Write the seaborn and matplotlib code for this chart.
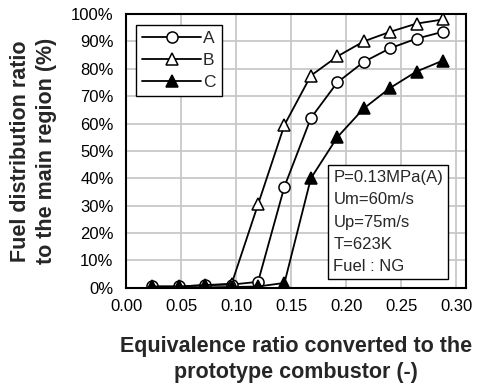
import numpy as np
import pandas as pd
import matplotlib
matplotlib.use("Agg")
import matplotlib.pyplot as plt
import seaborn as sns
from matplotlib.ticker import PercentFormatter

# equivalence ratio (shared by all series)
phi = [0.024, 0.048, 0.072, 0.096, 0.120, 0.144, 0.168, 0.192, 0.216, 0.240, 0.264, 0.288]

# fuel distribution ratio to the main region (%)
ratio_a = [0.5, 0.5, 1.0, 1.2, 2.2, 37.0, 62.0, 75.0, 82.5, 87.5, 91.0, 93.5]
ratio_b = [0.5, 0.5, 1.0, 1.5, 30.5, 59.5, 77.5, 84.5, 90.0, 93.5, 96.5, 98.0]
ratio_c = [0.0, 0.0, 0.2, 0.3, 0.5, 1.8, 40.0, 55.0, 65.5, 73.0, 79.0, 83.0]

series_names = ["A", "B", "C"]
conditions = ["P=0.13MPa(A)", "Um=60m/s", "Up=75m/s", "T=623K", "Fuel : NG"]

df = pd.DataFrame({
    "phi": phi * 3,
    "ratio": ratio_a + ratio_b + ratio_c,
    "case": sum([[n] * len(phi) for n in series_names], []),
})

sns.set_style("white")
plt.rcParams["font.family"] = ["Liberation Sans", "DejaVu Sans"]

fig, ax = plt.subplots(figsize=(4.78, 3.89), dpi=100)
fig.subplots_adjust(left=0.2636, right=0.975, top=0.964, bottom=0.26)

marker_styles = {
    "A": dict(marker="o", markerfacecolor="white"),
    "B": dict(marker="^", markerfacecolor="white"),
    "C": dict(marker="^", markerfacecolor="black"),
}
for name in series_names:
    sub = df[df["case"] == name]
    sns.lineplot(data=sub, x="phi", y="ratio", ax=ax, color="black", lw=1.3,
                 markersize=8, markeredgecolor="black", markeredgewidth=1.1,
                 label=name, **marker_styles[name])

ax.set_xlim(0, 0.309)
ax.set_ylim(0, 100)
ax.set_xticks(np.arange(0, 0.301, 0.05))
ax.set_yticks(np.arange(0, 101, 10))
ax.xaxis.set_major_formatter(lambda v, p: f"{v:.2f}")
ax.yaxis.set_major_formatter(PercentFormatter(decimals=0))
ax.grid(True, color="#c8c8c8", lw=1.3)
ax.set_axisbelow(True)
for s in ax.spines.values():
    s.set_color("black")
    s.set_linewidth(1.5)
ax.tick_params(axis="both", labelsize=12, length=4, direction="in", colors="black")
ax.tick_params(axis="x", pad=8)
ax.tick_params(axis="y", pad=9)

ax.set_xlabel("Equivalence ratio converted to the\nprototype combustor (-)",
              fontsize=15.5, fontweight="bold", labelpad=16, linespacing=1.3)
ax.set_ylabel("Fuel distribution ratio\nto the main region (%)",
              fontsize=15.5, fontweight="bold", labelpad=10, linespacing=1.3)

leg = ax.legend(loc="upper left", bbox_to_anchor=(0.03, 0.96), borderaxespad=0,
                fontsize=12.5, frameon=True, fancybox=False, edgecolor="black",
                framealpha=1, handlelength=3.4, handletextpad=0.1, borderpad=0.35,
                labelspacing=0.4)
leg.get_frame().set_linewidth(1.0)

ax.text(0.61, 0.43, "\n".join(conditions), transform=ax.transAxes, fontsize=12,
        va="top", ha="left", linespacing=1.6,
        bbox=dict(boxstyle="square,pad=0.3", facecolor="white", edgecolor="black", lw=1.0))

fig.savefig("out.png", dpi=100)
